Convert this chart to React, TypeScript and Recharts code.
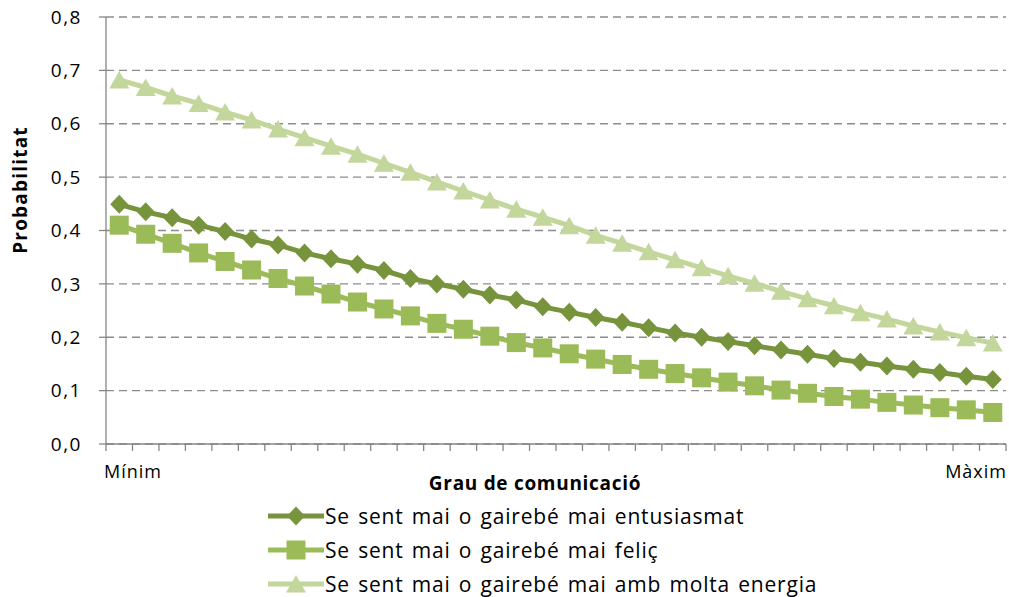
import React from 'react';
import { LineChart, Line, XAxis, YAxis, CartesianGrid, Legend } from 'recharts';

// category positions (34 steps from Mínim to Màxim)
const positions = [
  0, 1, 2, 3, 4, 5, 6, 7, 8, 9, 10, 11, 12, 13, 14, 15, 16,
  17, 18, 19, 20, 21, 22, 23, 24, 25, 26, 27, 28, 29, 30, 31, 32, 33,
];

const entusiasmat = [
  0.449, 0.435, 0.424, 0.41, 0.398, 0.384, 0.373, 0.358, 0.347, 0.337, 0.325, 0.31,
  0.3, 0.29, 0.279, 0.27, 0.257, 0.247, 0.237, 0.228, 0.218, 0.208, 0.2, 0.192,
  0.184, 0.176, 0.168, 0.16, 0.153, 0.146, 0.14, 0.134, 0.127, 0.121,
];

const felic = [
  0.41, 0.393, 0.376, 0.358, 0.342, 0.326, 0.31, 0.296, 0.281, 0.266, 0.253, 0.24,
  0.226, 0.215, 0.202, 0.19, 0.18, 0.169, 0.159, 0.149, 0.14, 0.132, 0.124, 0.116,
  0.109, 0.101, 0.095, 0.089, 0.084, 0.078, 0.073, 0.068, 0.064, 0.059,
];

const energia = [
  0.682, 0.668, 0.652, 0.638, 0.622, 0.607, 0.59, 0.574, 0.558, 0.543, 0.526, 0.509,
  0.491, 0.474, 0.457, 0.44, 0.425, 0.409, 0.391, 0.376, 0.36, 0.345, 0.33, 0.315,
  0.301, 0.286, 0.272, 0.259, 0.246, 0.234, 0.221, 0.21, 0.199, 0.189,
];

const seriesNames = [
  'Se sent mai o gairebé mai entusiasmat',
  'Se sent mai o gairebé mai feliç',
  'Se sent mai o gairebé mai amb molta energia',
];

const yTicks = [0, 0.1, 0.2, 0.3, 0.4, 0.5, 0.6, 0.7, 0.8];
const edgeLabels = ['Mínim', 'Màxim'];

// tick marks sit between categories, like Excel
const xTicks = positions.map(p => p - 0.5).concat([positions[positions.length - 1] + 0.5]);

const data = positions.map((p, i) => ({
  pos: p,
  entusiasmat: entusiasmat[i],
  felic: felic[i],
  energia: energia[i],
}));

const FONT = '"Open Sans", sans-serif';
const C_DARK = '#77933C';
const C_MID = '#9BBB59';
const C_LIGHT = '#C3D69B';

type Marker = 'diamond' | 'square' | 'triangle';

const markerShape = (kind: Marker, cx: number, cy: number, fill: string) => {
  if (kind === 'diamond') {
    return <polygon points={`${cx},${cy - 9.5} ${cx + 9},${cy} ${cx},${cy + 9.5} ${cx - 9},${cy}`} fill={fill} />;
  }
  if (kind === 'square') {
    return <rect x={cx - 9.5} y={cy - 9.5} width={19} height={19} fill={fill} />;
  }
  return <polygon points={`${cx},${cy - 9} ${cx + 10},${cy + 8.5} ${cx - 10},${cy + 8.5}`} fill={fill} />;
};

const makeDot = (kind: Marker, fill: string) => (props: any) => {
  const { cx, cy, index } = props;
  if (cx == null || cy == null) return <g key={`${kind}-${index}`} />;
  return <g key={`${kind}-${index}`}>{markerShape(kind, cx, cy, fill)}</g>;
};

const XTick = (props: any) => {
  const { x, y, index } = props;
  const last = xTicks.length - 1;
  if (index !== 0 && index !== last) return <g />;
  return (
    <text
      x={index === 0 ? x - 2 : x + 1}
      y={y + 25}
      textAnchor={index === 0 ? 'start' : 'end'}
      fontFamily={FONT}
      fontSize={18}
      letterSpacing={1}
      fill="#000"
    >
      {index === 0 ? edgeLabels[0] : edgeLabels[1]}
    </text>
  );
};

const legendItems = [
  { name: seriesNames[0], color: C_DARK, kind: 'diamond' as Marker },
  { name: seriesNames[1], color: C_MID, kind: 'square' as Marker },
  { name: seriesNames[2], color: C_LIGHT, kind: 'triangle' as Marker },
];

const LegendBox = () => (
  <div style={{ height: 100, paddingTop: 2, paddingLeft: 268, boxSizing: 'border-box' }}>
    {legendItems.map(item => (
      <div key={item.name} style={{ height: 34, display: 'flex', alignItems: 'center' }}>
        <svg width={56} height={22} style={{ display: 'block' }}>
          <line x1={0} y1={11} x2={56} y2={11} stroke={item.color} strokeWidth={5} />
          {markerShape(item.kind, 28, 11, item.color)}
        </svg>
        <span
          style={{
            fontFamily: FONT,
            fontSize: 21,
            letterSpacing: 0.8,
            wordSpacing: 2,
            color: '#000',
            marginLeft: 1,
            whiteSpace: 'nowrap',
          }}
        >
          {item.name}
        </span>
      </div>
    ))}
  </div>
);

const App: React.FC = () => {
  return (
    <div style={{ position: 'absolute', left: 0, top: 0, width: 1009, height: 597, background: '#fff' }}>
      <LineChart width={1009} height={597} data={data} margin={{ top: 17, right: 3, left: 0, bottom: 0 }}>
        <CartesianGrid vertical={false} stroke="#8C8C8C" strokeWidth={1.3} strokeDasharray="8 5" />
        <XAxis
          dataKey="pos"
          type="number"
          domain={[-0.5, 33.5]}
          ticks={xTicks}
          interval={0}
          height={53}
          tickSize={7}
          axisLine={{ stroke: '#868686', strokeWidth: 1.3 }}
          tickLine={{ stroke: '#868686', strokeWidth: 1.3 }}
          tick={<XTick />}
          label={{
            content: () => (
              <text
                x={535}
                y={490}
                textAnchor="middle"
                fontFamily={FONT}
                fontSize={19}
                fontWeight="bold"
                letterSpacing={0.7}
                fill="#000"
              >
                Grau de comunicació
              </text>
            ),
          }}
        />
        <YAxis
          type="number"
          domain={[0, 0.8]}
          ticks={yTicks}
          width={106}
          tickSize={7}
          tickMargin={17}
          tickFormatter={(v: number) => v.toFixed(1).replace('.', ',')}
          tick={{ fill: '#000', fontFamily: FONT, fontSize: 19, letterSpacing: 1.5 }}
          axisLine={{ stroke: '#868686', strokeWidth: 1.3 }}
          tickLine={{ stroke: '#868686', strokeWidth: 1.3 }}
          label={{
            content: () => (
              <text
                x={27}
                y={190}
                transform="rotate(-90, 27, 190)"
                textAnchor="middle"
                fontFamily={FONT}
                fontSize={19}
                fontWeight="bold"
                letterSpacing={1.2}
                fill="#000"
              >
                Probabilitat
              </text>
            ),
          }}
        />
        <Legend verticalAlign="bottom" align="left" content={<LegendBox />} />
        <Line
          dataKey="energia"
          name={seriesNames[2]}
          stroke={C_LIGHT}
          strokeWidth={5}
          dot={makeDot('triangle', C_LIGHT)}
          activeDot={false}
          isAnimationActive={false}
        />
        <Line
          dataKey="felic"
          name={seriesNames[1]}
          stroke={C_MID}
          strokeWidth={5}
          dot={makeDot('square', C_MID)}
          activeDot={false}
          isAnimationActive={false}
        />
        <Line
          dataKey="entusiasmat"
          name={seriesNames[0]}
          stroke={C_DARK}
          strokeWidth={5}
          dot={makeDot('diamond', C_DARK)}
          activeDot={false}
          isAnimationActive={false}
        />
      </LineChart>
    </div>
  );
};

export default App;
